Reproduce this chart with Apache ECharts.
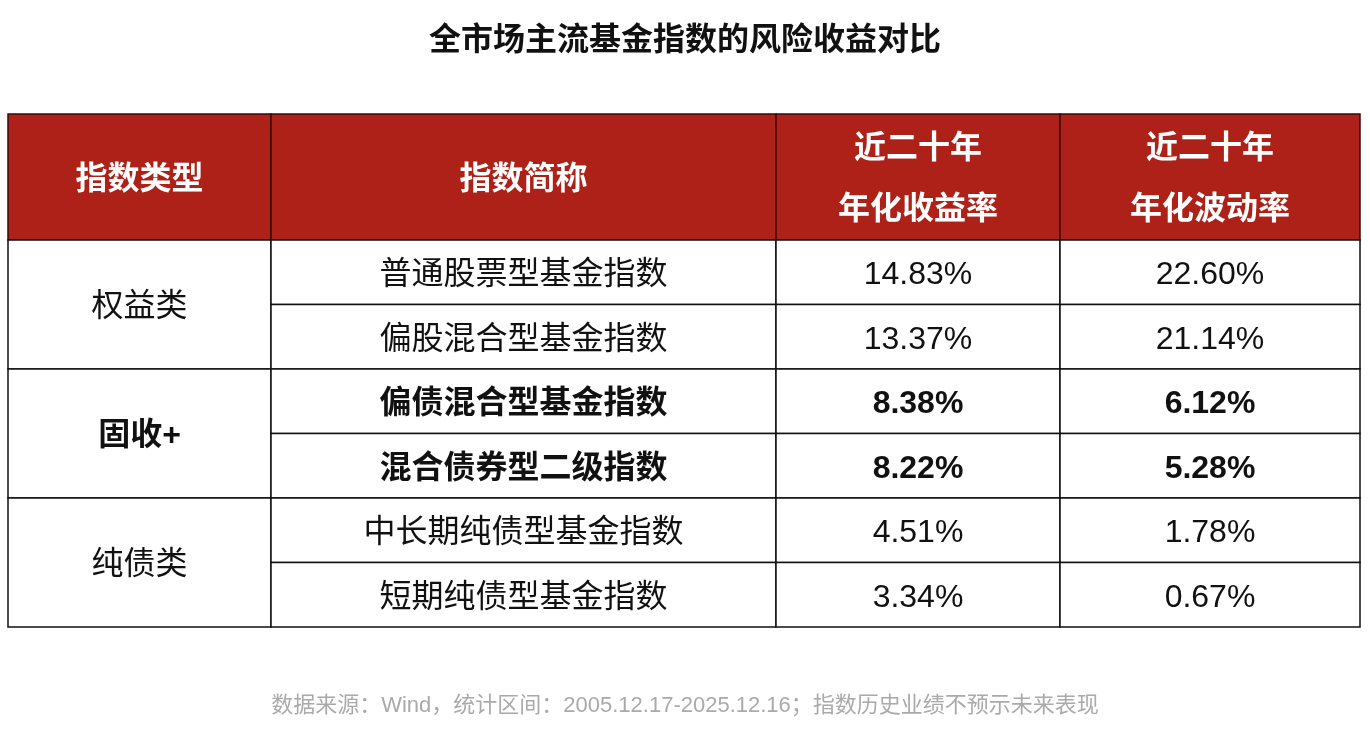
<!DOCTYPE html>
<html><head><meta charset="utf-8">
<script src="https://cdn.jsdelivr.net/npm/echarts@6/dist/echarts.min.js"></script>
<style>html,body{margin:0;background:#fff}#c{width:1370px;height:734px}</style>
</head><body><div id="c"></div>
<script>
const headers = ['指数类型','指数简称','近二十年\n年化收益率','近二十年\n年化波动率'];
const groups = ['权益类','固收+','纯债类'];
const groupBold = [false,true,false];
const names = ['普通股票型基金指数','偏股混合型基金指数','偏债混合型基金指数','混合债券型二级指数','中长期纯债型基金指数','短期纯债型基金指数'];
const returns = ['14.83%','13.37%','8.38%','8.22%','4.51%','3.34%'];
const vols = ['22.60%','21.14%','6.12%','5.28%','1.78%','0.67%'];
const colW = [263,505,284,300];
const headH = 126, rowH = 64.5;
const FF = '"Liberation Sans","Noto Sans CJK SC"';

const colX = [0]; colW.forEach(w=>colX.push(colX[colX.length-1]+w));
const cells = [];
headers.forEach((h,i)=>cells.push([colX[i],colX[i+1],0,headH,h,'head']));
groups.forEach((g,gi)=>{
  const y0 = headH+gi*2*rowH;
  cells.push([colX[0],colX[1],y0,y0+2*rowH,g,groupBold[gi]?'bold':'body']);
});
names.forEach((n,r)=>{
  const y0 = headH+r*rowH, k = groupBold[Math.floor(r/2)]?'bold':'body';
  cells.push([colX[1],colX[2],y0,y0+rowH,n,k]);
  cells.push([colX[2],colX[3],y0,y0+rowH,returns[r],k]);
  cells.push([colX[3],colX[4],y0,y0+rowH,vols[r],k]);
});
const total = headH+rowH*names.length;
const chart = echarts.init(document.getElementById('c'));
chart.setOption({
  backgroundColor:'#fff',
  title:{text:'全市场主流基金指数的风险收益对比',left:'center',top:20,
    textStyle:{fontFamily:FF,fontSize:32,fontWeight:'bold',color:'#111'}},
  graphic:[{type:'text',left:'center',top:695,style:{text:'数据来源：Wind，统计区间：2005.12.17-2025.12.16；指数历史业绩不预示未来表现',
    fill:'#aaa',font:'22px '+FF}}],
  grid:{left:8,top:114,width:colX[4],height:total},
  xAxis:{type:'value',min:0,max:colX[4],show:false},
  yAxis:{type:'value',min:0,max:total,inverse:true,show:false},
  series:[{type:'custom',data:cells,renderItem:(p,api)=>{
    const d=cells[p.dataIndex];
    const a=api.coord([d[0],d[2]]), b=api.coord([d[1],d[3]]);
    const head=d[5]==='head', bold=d[5]!=='body';
    return {type:'group',children:[
      {type:'rect',shape:{x:a[0],y:a[1],width:b[0]-a[0],height:b[1]-a[1]},
       style:{fill:head?'#ae2118':'#fff',stroke:head?'#3a0a08':'#111',lineWidth:1.5}},
      {type:'text',style:{text:d[4],x:(a[0]+b[0])/2,y:(a[1]+b[1])/2+3,align:'center',verticalAlign:'middle',
        fill:head?'#fff':'#111',lineHeight:61,
        font:(bold?'bold ':'')+'32px '+FF}}
    ]};
  }}]
});
</script></body></html>
